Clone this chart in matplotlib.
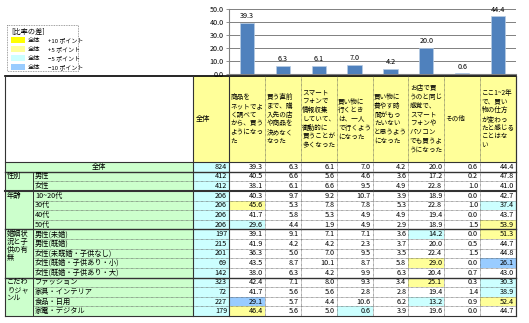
import matplotlib
matplotlib.use("Agg")
import matplotlib.pyplot as plt
from matplotlib.patches import Rectangle

plt.rcParams['font.family'] = ['Noto Sans CJK JP', 'DejaVu Sans']

# ---------------- data ----------------
headers = [
    "商品を\nネットでよ\nく調べて\nから、買う\nようになっ\nた",
    "買う直前\nまで、購\n入先の店\nや商品を\n決めなく\nなった",
    "スマート\nフォンで\n情報収集\nしていて、\n衝動的に\n買うことが\n多くなった",
    "買い物に\n行くとき\nは、一人\nで行くよう\nになった",
    "買い物に\n費やす時\n間がもっ\nたいない\nと思うよう\nになった",
    "お店で買\nうのと同じ\n感覚で、\nスマート\nフォンや\nパソコン\nでも買うよ\nうになった",
    "その他",
    "ここ1~2年\nで、買い\n物の仕方\nが変わっ\nたと感じる\nことはな\nい",
]
total_values = [39.3, 6.3, 6.1, 7.0, 4.2, 20.0, 0.6, 44.4]

groups = ["全体", "性別", "年齢", "婚姻状\n況と子\n供の有\n無", "こだわ\nりジャ\nンル"]
group_sizes = [1, 2, 4, 5, 4]
row_labels = ["全体", "男性", "女性", "10~20代", "30代", "40代", "50代",
              "男性(未婚)", "男性(既婚)", "女性(未既婚・子供なし)",
              "女性(既婚・子供あり・小)", "女性(既婚・子供あり・大)",
              "ファッション", "家具・インテリア", "食品・日用", "家電・デジタル"]
n_values = [824, 412, 412, 206, 206, 206, 206, 197, 215, 201, 69, 142, 323, 72, 227, 179]
table_values = [
    [39.3, 6.3, 6.1, 7.0, 4.2, 20.0, 0.6, 44.4],
    [40.5, 6.6, 5.6, 4.6, 3.6, 17.2, 0.2, 47.8],
    [38.1, 6.1, 6.6, 9.5, 4.9, 22.8, 1.0, 41.0],
    [40.3, 9.7, 9.2, 10.7, 3.9, 18.9, 0.0, 42.7],
    [45.6, 5.3, 7.8, 7.8, 5.3, 22.8, 1.0, 37.4],
    [41.7, 5.8, 5.3, 4.9, 4.9, 19.4, 0.0, 43.7],
    [29.6, 4.4, 1.9, 4.9, 2.9, 18.9, 1.5, 53.9],
    [39.1, 9.1, 7.1, 7.1, 3.6, 14.2, 0.0, 51.3],
    [41.9, 4.2, 4.2, 2.3, 3.7, 20.0, 0.5, 44.7],
    [36.3, 5.0, 7.0, 9.5, 3.5, 22.4, 1.5, 44.8],
    [43.5, 8.7, 10.1, 8.7, 5.8, 29.0, 0.0, 26.1],
    [38.0, 6.3, 4.2, 9.9, 6.3, 20.4, 0.7, 43.0],
    [42.4, 7.1, 8.0, 9.3, 3.4, 25.1, 0.3, 30.3],
    [41.7, 5.6, 5.6, 2.8, 2.8, 19.4, 1.4, 38.9],
    [29.1, 5.7, 4.4, 10.6, 6.2, 13.2, 0.9, 52.4],
    [46.4, 5.6, 5.0, 0.6, 3.9, 19.6, 0.0, 44.7],
]
# highlighted cells: (row, col, level) level: 2=+10, 1=+5, -1=-5, -2=-10
highlights = [(4, 0, 1), (4, 7, -1), (6, 0, -1), (6, 7, 1), (7, 5, -1), (7, 7, 1),
              (10, 5, 1), (10, 7, -2), (12, 5, 1), (12, 7, -1), (13, 7, -1),
              (14, 0, -2), (14, 5, -1), (14, 7, 1), (15, 0, 1), (15, 3, -1)]
legend_labels = ["+10 ポイント", "+5 ポイント", "\u22125 ポイント", "\u221210 ポイント"]
level_colors = {2: "#FFFF00", 1: "#FFFF99", -1: "#CCFFFF", -2: "#99CCFF"}
legend_levels = [2, 1, -1, -2]

# ---------------- layout (pixels) ----------------
W, H = 529, 323
fig = plt.figure(figsize=(W / 100, H / 100), dpi=100)
tax = fig.add_axes([0, 0, 1, 1])
tax.set_xlim(0, W)
tax.set_ylim(H, 0)
tax.axis("off")

x_left, x_split, x_n, x_d0, x_end = 5, 33, 193, 229, 516
ncol = len(headers)
cw = (x_end - x_d0) / ncol
y_top, y_head, y_bot = 76, 162, 316
nrow = len(row_labels)
rh = (y_bot - y_head) / nrow
fs = 5.2
hfs = 4.75

# bar chart
bax = fig.add_axes([x_d0 / W, 1 - 74 / H, (x_end - x_d0) / W, (74 - 9) / H])
xs = list(range(ncol))
bax.bar(xs, total_values, width=0.4, color="#4F81BD", edgecolor="#B8CCE4", linewidth=0.5, zorder=3)
for x, v in zip(xs, total_values):
    bax.text(x, v + 2.0, f"{v:.1f}", ha="center", va="bottom", fontsize=fs)
bax.set_xlim(-0.5, ncol - 0.5)
bax.set_ylim(0, 50)
bax.set_yticks([0, 10, 20, 30, 40, 50])
bax.set_yticklabels([f"{t:.1f}" for t in [0, 10, 20, 30, 40, 50]], fontsize=fs)
bax.tick_params(axis="y", length=2, width=0.6, color="#808080", pad=2)
bax.set_xticks([])
bax.grid(axis="y", color="#808080", linewidth=0.7, zorder=0)
for s in ["top", "right"]:
    bax.spines[s].set_visible(False)
bax.spines["left"].set_color("#808080")
bax.spines["bottom"].set_color("#808080")
bax.set_facecolor("none")

# legend box
tax.add_patch(Rectangle((7, 25), 71, 46, facecolor="white", edgecolor="#808080", linewidth=0.6, linestyle=(0, (1, 1))))
tax.text(11, 32, "[比率の差]", fontsize=fs, va="center", ha="left")
for i, (lv, lab) in enumerate(zip(legend_levels, legend_labels)):
    yy = 40 + i * 9
    tax.add_patch(Rectangle((11, yy - 3.2), 14, 6.4, facecolor=level_colors[lv], edgecolor="none"))
    tax.text(28, yy, "全体", fontsize=fs - 0.7, va="center", ha="left")
    tax.text(48, yy, lab, fontsize=fs - 0.9, va="center", ha="left")

# header row
tax.add_patch(Rectangle((x_left, y_top), x_n - x_left, y_head - y_top, facecolor="white", edgecolor="none"))
tax.add_patch(Rectangle((x_n, y_top), x_end - x_n, y_head - y_top, facecolor="#FFFF99", edgecolor="none"))
tax.text(x_n + 3, (y_top + y_head) / 2, "全体", fontsize=fs, va="center", ha="left")
for j, h in enumerate(headers):
    tax.text(x_d0 + j * cw + 1.5, (y_top + y_head) / 2, h, fontsize=hfs, va="center", ha="left", linespacing=1.12)

# body
tax.add_patch(Rectangle((x_left, y_head), x_n - x_left, y_bot - y_head, facecolor="#CCFFCC", edgecolor="none"))
tax.add_patch(Rectangle((x_n, y_head), x_d0 - x_n, y_bot - y_head, facecolor="#CCFFFF", edgecolor="none"))
tax.add_patch(Rectangle((x_d0, y_head), x_end - x_d0, y_bot - y_head, facecolor="white", edgecolor="none"))
for (r, c, lv) in highlights:
    tax.add_patch(Rectangle((x_d0 + c * cw, y_head + r * rh), cw, rh, facecolor=level_colors[lv], edgecolor="none"))

for r in range(nrow):
    yc = y_head + (r + 0.5) * rh
    if r == 0:
        tax.text((x_left + x_n) / 2, yc, row_labels[r], fontsize=fs, va="center", ha="center")
    else:
        tax.text(x_split + 2, yc, row_labels[r], fontsize=fs, va="center", ha="left")
    tax.text(x_d0 - 2, yc, f"{n_values[r]}", fontsize=fs, va="center", ha="right")
    for c, v in enumerate(table_values[r]):
        tax.text(x_d0 + (c + 1) * cw - 2, yc, f"{v:.1f}", fontsize=fs, va="center", ha="right")

# group labels
start = 0
group_bounds = []
for g, sz in zip(groups, group_sizes):
    if start > 0:
        tax.text(x_left + 2, y_head + start * rh + 0.8, g, fontsize=fs, va="top", ha="left", linespacing=1.0)
    group_bounds.append(start)
    start += sz
group_bounds.append(nrow)

# horizontal lines
for r in range(1, nrow):
    yy = y_head + r * rh
    if r in group_bounds:
        tax.plot([x_left, x_end], [yy, yy], color="#333333", linewidth=1.0 if r != 3 else 1.5)
    else:
        tax.plot([x_split, x_end], [yy, yy], color="#555555", linewidth=0.5, linestyle=(0, (1, 0.8)))
tax.plot([x_left, x_end], [y_top, y_top], color="black", linewidth=1.2)
tax.plot([x_left, x_end], [y_head, y_head], color="#333333", linewidth=0.8)
tax.plot([x_left, x_end], [y_bot, y_bot], color="#333333", linewidth=0.8)

# vertical lines
tax.plot([x_left, x_left], [y_top, y_bot], color="#333333", linewidth=0.8)
tax.plot([x_end, x_end], [y_top, y_bot], color="#333333", linewidth=0.8)
tax.plot([x_n, x_n], [y_top, y_bot], color="#333333", linewidth=0.8)
tax.plot([x_split, x_split], [y_head + rh, y_bot], color="#333333", linewidth=0.7)
for c in range(ncol + 1):
    xx = x_d0 + c * cw
    if c in (0, ncol):
        tax.plot([xx, xx], [y_top, y_bot], color="#333333", linewidth=0.8)
    else:
        tax.plot([xx, xx], [y_top, y_bot], color="#555555", linewidth=0.5, linestyle=(0, (1, 0.8)))

fig.savefig("out.png", dpi=100)
